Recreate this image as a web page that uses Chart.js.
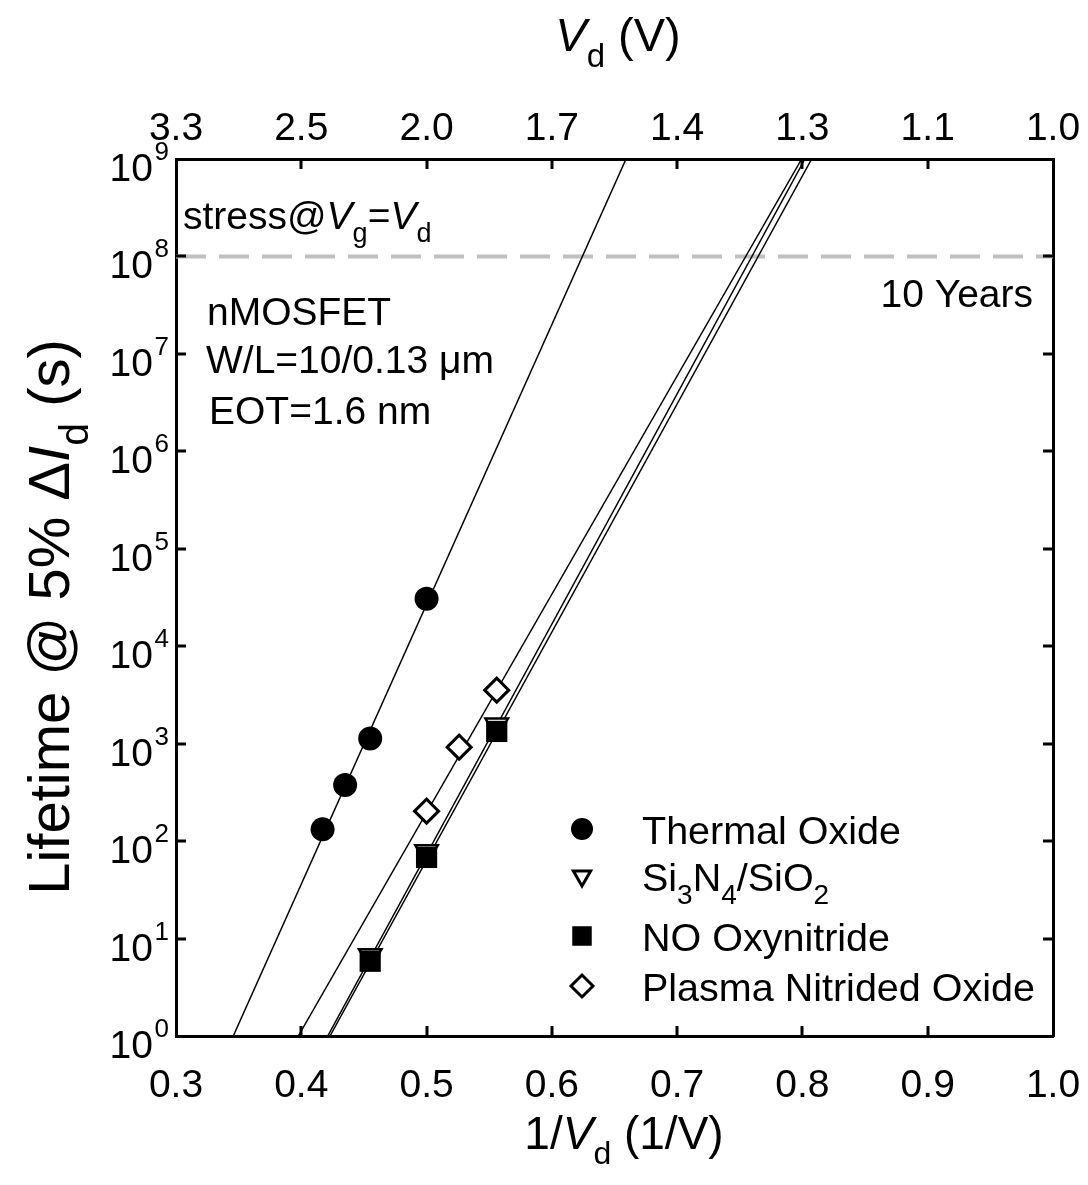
<!DOCTYPE html>
<html>
<head>
<meta charset="utf-8">
<script src="https://cdn.jsdelivr.net/npm/chart.js@4.4.1/dist/chart.umd.min.js"></script>
<style>
  html, body { margin: 0; padding: 0; background: #fff; }
  #wrap { width: 1088px; height: 1185px; }
</style>
</head>
<body>
<div id="wrap"><canvas id="lifetime-chart" width="1088" height="1185"></canvas></div>
<script>
// measured lifetimes, x = 1/Vd (1/V), y = lifetime at 5% drain current shift (s)
const thermalX = [0.417, 0.435, 0.455, 0.500];
const thermalY = [132, 376, 1130, 30700];
const nitrideX = [0.455, 0.500, 0.556];
const nitrideY = [6.65, 78, 1550];
const oxynitrideX = [0.455, 0.500, 0.556];
const oxynitrideY = [5.85, 68, 1335];
const plasmaX = [0.500, 0.526, 0.556];
const plasmaY = [203, 921, 3540];

// extrapolated fits, end points at 1 s and 1e9 s
const fitY = [1, 1e9];
const thermalFitX = [0.3457, 0.6592];
const nitrideFitX = [0.4211, 0.8020];
const oxynitrideFitX = [0.4229, 0.8074];
const plasmaFitX = [0.3976, 0.7994];

const tenYears = 1e8;

// axes
const xTicks = [0.3, 0.4, 0.5, 0.6, 0.7, 0.8, 0.9, 1.0];
const xTickLabels = ['0.3', '0.4', '0.5', '0.6', '0.7', '0.8', '0.9', '1.0'];
const vdTickLabels = ['3.3', '2.5', '2.0', '1.7', '1.4', '1.3', '1.1', '1.0'];
const yExponents = [0, 1, 2, 3, 4, 5, 6, 7, 8, 9];

const FONT = "'Liberation Sans', Arial, sans-serif";

function pts(xs, ys) {
    return xs.map((x, i) => ({ x: x, y: ys[i] }));
}

function fontStr(size, italic) {
    return (italic ? 'italic ' : '') + size + 'px ' + FONT;
}

// text runs: plain, italic, subscript
const T = (t) => ({ t: t });
const I = (t) => ({ t: t, it: true });
const S = (t) => ({ t: t, sub: true });

function drawRich(ctx, parts, x, y, size, align) {
    const subSize = Math.round(size * 0.7);
    let w = 0;
    parts.forEach(p => {
        ctx.font = fontStr(p.sub ? subSize : size, p.it);
        p.w = ctx.measureText(p.t).width;
        w += p.w;
    });
    let cx = align === 'center' ? x - w / 2 : (align === 'right' ? x - w : x);
    ctx.textAlign = 'left';
    ctx.textBaseline = 'alphabetic';
    parts.forEach(p => {
        ctx.font = fontStr(p.sub ? subSize : size, p.it);
        ctx.fillText(p.t, cx, p.sub ? y + size * 0.33 : y);
        cx += p.w;
    });
}

function marker(ctx, style, x, y, r) {
    ctx.save();
    ctx.lineWidth = 3;
    ctx.strokeStyle = '#000';
    ctx.beginPath();
    if (style === 'circle') {
        ctx.arc(x, y, r, 0, Math.PI * 2);
        ctx.fillStyle = '#000';
        ctx.fill();
    } else if (style === 'triangle') {
        ctx.moveTo(x - r * 0.866, y - r * 0.5);
        ctx.lineTo(x + r * 0.866, y - r * 0.5);
        ctx.lineTo(x, y + r);
        ctx.closePath();
        ctx.fillStyle = '#fff';
        ctx.fill();
        ctx.stroke();
    } else if (style === 'rect') {
        ctx.rect(x - r * 0.75, y - r * 0.75, r * 1.5, r * 1.5);
        ctx.fillStyle = '#000';
        ctx.fill();
    } else {
        ctx.moveTo(x - r, y);
        ctx.lineTo(x, y - r);
        ctx.lineTo(x + r, y);
        ctx.lineTo(x, y + r);
        ctx.closePath();
        ctx.fillStyle = '#fff';
        ctx.fill();
        ctx.stroke();
    }
    ctx.restore();
}

const decorations = {
    id: 'decorations',
    afterDraw(chart) {
        const ctx = chart.ctx;
        const xs = chart.scales.x;
        const ys = chart.scales.y;
        const a = chart.chartArea;
        ctx.save();
        ctx.fillStyle = '#000';
        ctx.strokeStyle = '#000';

        // inward tick marks on all four sides
        ctx.lineWidth = 3;
        ctx.beginPath();
        xTicks.slice(1, -1).forEach(v => {
            const px = Math.round(xs.getPixelForValue(v));
            ctx.moveTo(px, a.bottom); ctx.lineTo(px, a.bottom - 10);
            ctx.moveTo(px, a.top); ctx.lineTo(px, a.top + 10);
        });
        yExponents.slice(1, -1).forEach(e => {
            const py = Math.round(ys.getPixelForValue(Math.pow(10, e)));
            ctx.moveTo(a.left, py); ctx.lineTo(a.left + 10, py);
            ctx.moveTo(a.right, py); ctx.lineTo(a.right - 10, py);
        });
        ctx.stroke();

        // tick labels
        ctx.font = fontStr(39);
        ctx.textAlign = 'center';
        ctx.textBaseline = 'alphabetic';
        xTicks.forEach((v, i) => {
            const px = xs.getPixelForValue(v);
            ctx.fillText(xTickLabels[i], px, a.bottom + 61);
            ctx.fillText(vdTickLabels[i], px, a.top - 19);
        });
        ctx.textAlign = 'right';
        yExponents.forEach(e => {
            const py = ys.getPixelForValue(Math.pow(10, e));
            ctx.font = fontStr(26);
            ctx.fillText(String(e), 169, py + 1);
            ctx.font = fontStr(39);
            ctx.fillText('10', 153, py + 22);
        });

        // axis titles
        drawRich(ctx, [T('1/'), I('V'), S('d'), T(' (1/V)')], 624, 1149, 46, 'center');
        drawRich(ctx, [I('V'), S('d'), T(' (V)')], 618, 51, 47, 'center');
        ctx.save();
        ctx.translate(69, 617);
        ctx.rotate(-Math.PI / 2);
        drawRich(ctx, [T('Lifetime @ 5% \u0394'), I('I'), S('d'), T(' (s)')], 0, 0, 58, 'center');
        ctx.restore();

        // annotations
        drawRich(ctx, [T('stress@'), I('V'), S('g'), T('='), I('V'), S('d')], 183, 229, 39, 'left');
        drawRich(ctx, [T('nMOSFET')], 207, 325, 39, 'left');
        drawRich(ctx, [T('W/L=10/0.13 \u03bcm')], 206, 373, 39, 'left');
        drawRich(ctx, [T('EOT=1.6 nm')], 209, 424, 39, 'left');
        drawRich(ctx, [T('10 Years')], 1033, 307, 39, 'right');

        // legend
        const rows = [
            { style: 'circle', r: 11, label: [T('Thermal Oxide')], y: 844 },
            { style: 'triangle', r: 10, label: [T('Si'), S('3'), T('N'), S('4'), T('/SiO'), S('2')], y: 891 },
            { style: 'rect', r: 13, label: [T('NO Oxynitride')], y: 951 },
            { style: 'diamond', r: 11, label: [T('Plasma Nitrided Oxide')], y: 1001 }
        ];
        rows.forEach(row => {
            marker(ctx, row.style, 582, row.y - 15, row.r);
            ctx.fillStyle = '#000';
            drawRich(ctx, row.label, 642, row.y, 39.5, 'left');
        });
        ctx.restore();
    }
};

const lineStyle = {
    type: 'line',
    showLine: true,
    borderColor: '#000',
    borderWidth: 1.5,
    pointRadius: 0,
    fill: false,
    order: 5
};

const data = {
    datasets: [
        { ...lineStyle, data: pts(thermalFitX, fitY) },
        { ...lineStyle, data: pts(nitrideFitX, fitY) },
        { ...lineStyle, data: pts(oxynitrideFitX, fitY) },
        { ...lineStyle, data: pts(plasmaFitX, fitY) },
        {
            type: 'line',
            data: [{ x: 0.3, y: tenYears }, { x: 1.0, y: tenYears }],
            borderColor: '#c0c0c0',
            borderWidth: 4,
            borderDash: [30, 13],
            pointRadius: 0,
            order: 6
        },
        {
            label: 'Thermal Oxide',
            data: pts(thermalX, thermalY),
            pointStyle: 'circle',
            pointRadius: 12,
            backgroundColor: '#000',
            borderColor: '#000',
            borderWidth: 0,
            order: 1
        },
        {
            label: 'Si3N4/SiO2',
            data: pts(nitrideX, nitrideY),
            pointStyle: 'triangle',
            rotation: 180,
            pointRadius: 13,
            backgroundColor: '#fff',
            borderColor: '#000',
            borderWidth: 2.5,
            order: 3
        },
        {
            label: 'NO Oxynitride',
            data: pts(oxynitrideX, oxynitrideY),
            pointStyle: 'rect',
            pointRadius: 15,
            backgroundColor: '#000',
            borderColor: '#000',
            borderWidth: 0,
            order: 2
        },
        {
            label: 'Plasma Nitrided Oxide',
            data: pts(plasmaX, plasmaY),
            pointStyle: 'rectRot',
            pointRadius: 12,
            backgroundColor: '#fff',
            borderColor: '#000',
            borderWidth: 3,
            order: 1
        }
    ]
};

const hiddenAxis = {
    ticks: { display: false },
    grid: { display: false, drawTicks: false },
    border: { display: true, color: '#000', width: 3 }
};

new Chart(document.getElementById('lifetime-chart'), {
    type: 'scatter',
    data: data,
    options: {
        responsive: false,
        animation: false,
        devicePixelRatio: 1,
        layout: { padding: { left: 176, top: 159, right: 35, bottom: 149 } },
        plugins: {
            legend: { display: false },
            tooltip: { enabled: false }
        },
        scales: {
            x: { ...hiddenAxis, type: 'linear', position: 'bottom', min: 0.3, max: 1.0 },
            x2: { ...hiddenAxis, type: 'linear', position: 'top', min: 0.3, max: 1.0 },
            y: { ...hiddenAxis, type: 'logarithmic', position: 'left', min: 1, max: 1e9 },
            y2: { ...hiddenAxis, type: 'logarithmic', position: 'right', min: 1, max: 1e9 }
        }
    },
    plugins: [decorations]
});
</script>
</body>
</html>
